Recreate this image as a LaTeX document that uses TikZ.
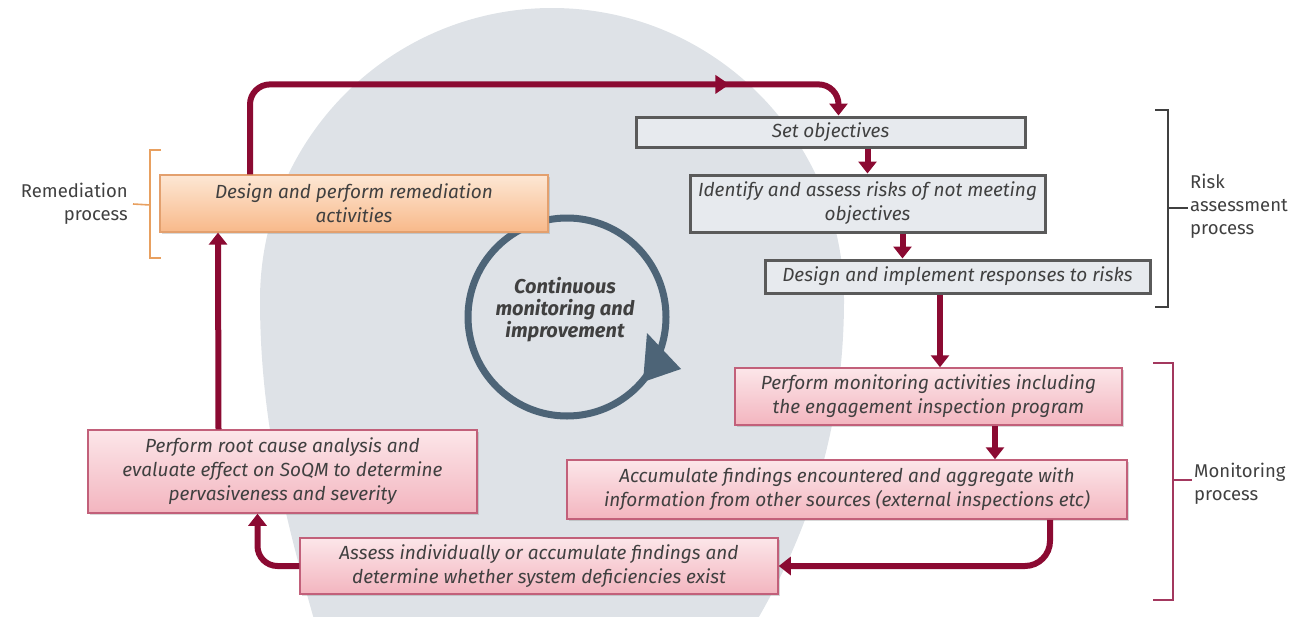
\documentclass[tikz,border=0pt]{standalone}
\usepackage{fontspec}
\setmainfont{Fira Sans}
\usetikzlibrary{shapes,arrows.meta,calc,positioning,shadows,decorations.markings}
\definecolor{loopred}{HTML}{8B0A32}
\definecolor{ringblue}{HTML}{4D6477}
\definecolor{bggray}{HTML}{DEE2E7}
\definecolor{boxgray}{HTML}{E7EAEE}
\definecolor{boxedge}{HTML}{5A5A5A}
\definecolor{pinktop}{HTML}{FCE6E9}
\definecolor{pinkbot}{HTML}{F3B5BF}
\definecolor{pinkedge}{HTML}{C2607A}
\definecolor{orangetop}{HTML}{FDE7D4}
\definecolor{orangebot}{HTML}{F8B98A}
\definecolor{orangeedge}{HTML}{E3A06E}
\definecolor{txtgray}{HTML}{404040}
\definecolor{monbrace}{HTML}{A3385E}
\definecolor{rembrace}{HTML}{E8A060}
\tikzset{
    flow/.style={draw=loopred, line width=6pt, rounded corners=20pt, -{Triangle[width=18pt,length=12pt]}},
    box/.style={rectangle, align=center, text=txtgray, inner sep=2pt,
        font=\fontsize{19}{24}\selectfont\itshape,
        drop shadow={opacity=0.3, shadow xshift=2pt, shadow yshift=-2pt}},
    graybox/.style={box, draw=boxedge, line width=3pt, fill=boxgray},
    pinkbox/.style={box, draw=pinkedge, line width=1.5pt, top color=pinktop, bottom color=pinkbot},
    orangebox/.style={box, draw=orangeedge, line width=1.2pt, top color=orangetop, bottom color=orangebot},
    brace/.style={line width=1.6pt},
    lab/.style={font=\fontsize{18.5}{23}\selectfont, text=txtgray, inner sep=0pt}
}

\begin{document}
\begin{tikzpicture}[x=1pt,y=-1pt]
 \useasboundingbox (0,0) rectangle (1290,616);
 % background
 \begin{scope}
    \clip (0,0) rectangle (1290,616);
    \fill[bggray] (260,300) arc[start angle=180, end angle=360, radius=292]
        .. controls (844,450) and (795,560) .. (745,640) -- (320,640)
        .. controls (285,520) and (260,420) .. (260,300) -- cycle;
 \end{scope}

 % central loop
 \draw[ringblue, line width=7pt] (567,317) circle (99);
 \fill[ringblue] (647,333) -- (681,369) -- (643,382) -- cycle;
 \node[font=\fontsize{20}{22}\selectfont\bfseries\itshape, align=center, text=txtgray] (loop) at (565,310)
    {Continuous\\monitoring and\\improvement};

 % boxes
 \node[orangebox, minimum width=388pt, minimum height=57pt] (remed) at (354,203.5)
    {Design and perform remediation\\activities};
 \node[graybox, minimum width=389pt, minimum height=30pt] (setobj) at (830.5,132) {Set objectives};
 \node[graybox, minimum width=355pt, minimum height=57pt] (ident) at (867.5,203.5)
    {Identify and assess risks of not meeting\\objectives};
 \node[graybox, minimum width=385pt, minimum height=33pt] (design) at (957.5,276.5)
    {Design and implement responses to risks};
 \node[pinkbox, minimum width=387pt, minimum height=57pt] (monit) at (928.5,396.5)
    {Perform monitoring activities including\\the engagement inspection program};
 \node[pinkbox, minimum width=560pt, minimum height=59pt] (accum) at (847,489.5)
    {Accumulate findings encountered and aggregate with\\information from other sources (external inspections etc)};
 \node[pinkbox, minimum width=478pt, minimum height=56pt] (assess) at (539,566)
    {Assess individually or accumulate findings and\\determine whether system deficiencies exist};
 \node[pinkbox, minimum width=389pt, minimum height=83pt] (root) at (282.5,471.5)
    {Perform root cause analysis and\\evaluate effect on SoQM to determine\\pervasiveness and severity};

 % flows
 \draw[flow, postaction={decorate}, decoration={markings,
    mark=at position 0.81 with {\arrow{Triangle[width=18pt,length=14pt]}}}]
    ([xshift=-104pt]remed.north) -- ++(0,-90) -| ([xshift=8pt]setobj.north);
 \draw[flow] (setobj.south -| ident.north) -- (ident.north);
 \draw[flow] ([xshift=35pt]ident.south) -- ([xshift=-55pt]design.north);
 \draw[flow] ([xshift=-17.5pt]design.south) -- ([xshift=11.5pt]monit.north);
 \draw[flow] ([xshift=66.5pt]monit.south) -- ([xshift=148pt]accum.north);
 \draw[flow, rounded corners=25pt] ([xshift=203pt]accum.south) |- (assess.east);
 \draw[flow] (assess.west) -| ([xshift=-25pt]root.south);
 \draw[flow] ([xshift=-64pt]root.north) -- ([xshift=-136pt]remed.south);

 % process brackets
 \node[lab, anchor=east, align=right] (remlab) at (128,204) {Remediation\\process};
 \draw[brace, rembrace] (161,150) -- (150,150) -- (150,258) -- (161,258);
 \coordinate (remmid) at (150,205);
 \draw[brace, rembrace] (remmid) -- ([xshift=5pt]remlab.east);

 \node[lab, anchor=west, align=left] (risklab) at (1190,206) {Risk\\assessment\\process};
 \draw[brace, txtgray] (1155,110) -- (1168,110) -- (1168,307) -- (1155,307);
 \coordinate (riskmid) at (1168,208);
 \draw[brace, txtgray] (riskmid) -- ([xshift=-2pt]risklab.west |- riskmid);

 \node[lab, anchor=west, align=left] (monlab) at (1194,484) {Monitoring\\process};
 \draw[brace, monbrace] (1153,363) -- (1173,363) -- (1173,600) -- (1153,600);
 \coordinate (monmid) at (1173,480);
 \draw[brace, monbrace] (monmid) -- ([xshift=-2pt]monlab.west |- monmid);
\end{tikzpicture}
\end{document}
